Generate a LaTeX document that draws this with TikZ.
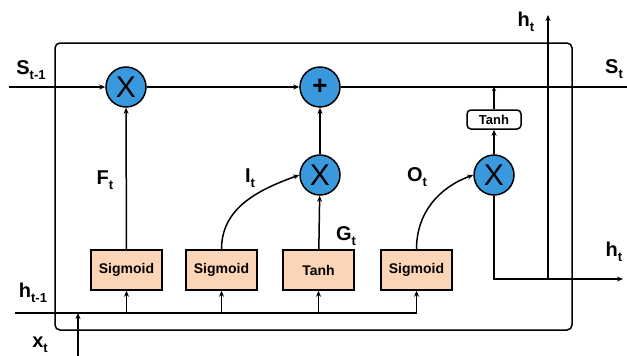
\documentclass[tikz,border=0pt]{standalone}
\usepackage{fontspec}
\setmainfont{Liberation Sans}
\usetikzlibrary{arrows.meta}
\definecolor{cblue}{RGB}{58,152,221}
\definecolor{peach}{RGB}{251,213,181}
\newcommand\lbl[2]{\bfseries\fontsize{20}{20}\selectfont #1\raisebox{-4.5pt}{\fontsize{13}{13}\selectfont #2}}
\begin{document}
\begin{tikzpicture}[x=1pt,y=-1pt,
  wire/.style={line width=1.5pt,black},
  arr/.style={wire,-{Stealth[length=6pt,width=5pt]}},
  op/.style={circle,draw,line width=1.5pt,fill=cblue,minimum size=40pt,inner sep=0pt},
  gatebox/.style={draw,line width=1.5pt,fill=peach,minimum width=71pt,minimum height=40pt,inner sep=0pt,font=\bfseries\fontsize{14}{14}\selectfont},
  smallbox/.style={draw,line width=1.5pt,fill=white,rounded corners=4pt,minimum width=54pt,minimum height=19pt,inner sep=0pt,font=\bfseries\fontsize{13}{13}\selectfont},
  lab/.style={inner sep=0pt}]
\useasboundingbox (0,0) rectangle (627,356);
% outer cell
\draw[wire,rounded corners=5pt] (55,43) rectangle (572,330);
% operators
\node[op,font=\fontsize{30}{30}\selectfont] (m1) at (126,87) {X};
\node[op,font=\bfseries\fontsize{26}{26}\selectfont] (pl) at (320,87) {+};
\node[op,font=\fontsize{30}{30}\selectfont] (m2) at (320,175) {X};
\node[op,font=\fontsize{30}{30}\selectfont] (m3) at (494,175) {X};
\node[smallbox] (th) at (494,119.5) {Tanh};
% gates
\node[gatebox] (b1) at (126.5,270) {Sigmoid};
\node[gatebox] (b2) at (221.5,270) {Sigmoid};
\node[gatebox] (b3) at (318.5,270) {Tanh};
\node[gatebox] (b4) at (416.5,270) {Sigmoid};
% coordinates
\coordinate (sin) at (9,87);
\coordinate (sout) at (627,87);
\coordinate (sj) at (494,87);
\coordinate (hin) at (15,313);
\coordinate (hend) at (416.5,313);
\coordinate (xin) at (78,356);
\coordinate (xj) at (78,313);
\coordinate (hout) at (623,279);
\coordinate (hv) at (548,279);
\coordinate (htop) at (548,15);
% cell state
\draw[arr] (sin) -- (m1);
\draw[arr] (m1) -- (pl);
\draw[wire] (pl) -- (sout);
\draw[arr] (b1) -- (m1);
\draw[arr] (m2) -- (pl);
\draw[arr] (b3) -- (m2);
\draw[arr] (b2.north) to[out=90,in=200] (m2.west);
\draw[arr] (b4.north) to[out=90,in=200] (m3.west);
\draw[arr] (m3) -- (th);
\draw[wire,-{Stealth[length=4pt,width=4pt]}] (th) -- (sj);
% hidden output
\draw[arr] (m3.south) |- (hout);
\draw[arr] (hv) -- (htop);
% inputs
\draw[wire] (hin) -- (hend);
\draw[arr] (xin) -- (xj);
\foreach \b in {b1,b2,b3,b4}{\draw[arr] (\b.south |- hin) -- (\b.south);}
% labels
\node[lab] (ls1) at (31,70) {\lbl{S}{t-1}};
\node[lab] (ls2) at (614,69) {\lbl{S}{t}};
\node[lab] (lh1) at (526,22) {\lbl{h}{t}};
\node[lab] (lh2) at (614,252) {\lbl{h}{t}};
\node[lab] (lh0) at (33,293) {\lbl{h}{t-1}};
\node[lab] (lx) at (40,345) {\lbl{x}{t}};
\node[lab] (lf) at (105,180) {\lbl{F}{t}};
\node[lab] (li) at (250,178) {\lbl{I}{t}};
\node[lab] (lg) at (346,236) {\lbl{G}{t}};
\node[lab] (lo) at (417,177) {\lbl{O}{t}};
\end{tikzpicture}
\end{document}
